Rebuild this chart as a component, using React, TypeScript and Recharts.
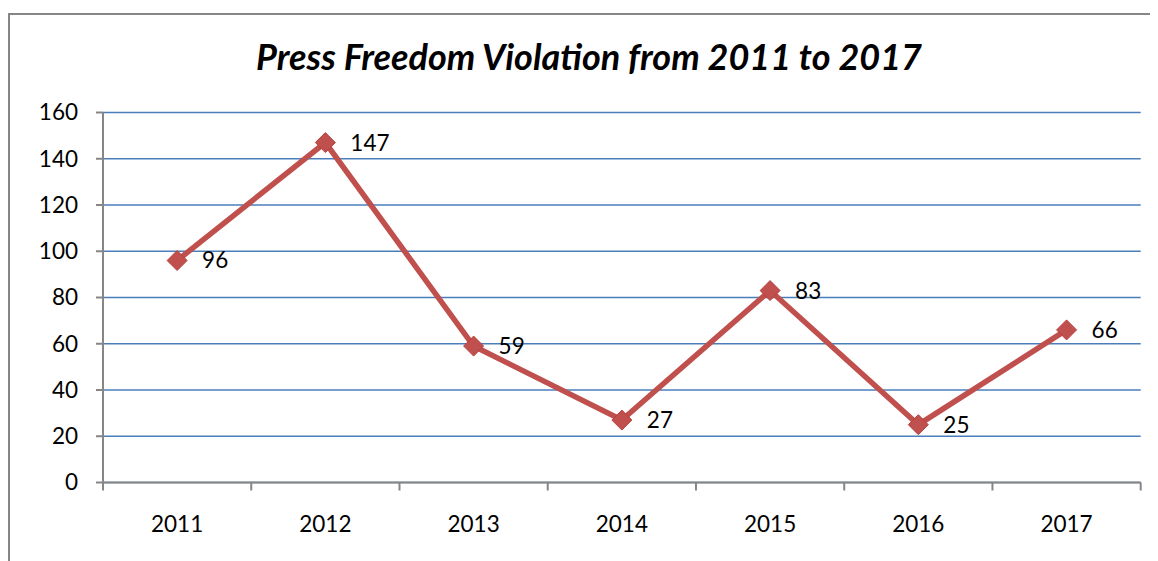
import { LineChart, Line, XAxis, YAxis, CartesianGrid, LabelList } from 'recharts';

const years = ['2011', '2012', '2013', '2014', '2015', '2016', '2017'];
const violations = [96, 147, 59, 27, 83, 25, 66];
const yTicks = [0, 20, 40, 60, 80, 100, 120, 140, 160];

const data = years.map((year, i) => ({ year, value: violations[i] }));

const W = 1148;
const H = 546;
const margin = { top: 97.5, right: 17.3, bottom: 38.5, left: 33 };
const yAxisWidth = 60;
const plotWidth = W - margin.left - margin.right - yAxisWidth;
const step = plotWidth / years.length;
const font = 'Lato, "Open Sans", sans-serif';
const fs = 22.5;

function Diamond(props: any) {
  const { cx, cy } = props;
  if (cx == null || cy == null) return null;
  const r = 10;
  return (
    <polygon
      points={`${cx},${cy - r} ${cx + r},${cy} ${cx},${cy + r} ${cx - r},${cy}`}
      fill="#C0504D"
      stroke="#B9403D"
      strokeWidth={1}
    />
  );
}

function YearTick(props: any) {
  const { x, y, payload, index } = props;
  const last = index === years.length - 1;
  return (
    <g>
      <line x1={x - step / 2} y1={y} x2={x - step / 2} y2={y + 8} stroke="#868686" strokeWidth={2} />
      {last && <line x1={x + step / 2} y1={y} x2={x + step / 2} y2={y + 8} stroke="#868686" strokeWidth={2} />}
      <text x={x} y={y + 49} textAnchor="middle" fontSize={fs} fill="#000" fontFamily={font}>
        {payload.value}
      </text>
    </g>
  );
}

export default function App() {
  return (
    <div style={{ width: 1150, height: 553, overflow: 'hidden' }}>
      <div
        style={{
          marginTop: 5,
          width: 1300,
          height: 700,
          borderTop: '2px solid #868686',
          borderLeft: '2px solid #868686',
          position: 'relative',
          fontFamily: font,
        }}
      >
        <div
          style={{
            position: 'absolute',
            left: 0,
            width: W + 10,
            top: 19,
            lineHeight: '44px',
            textAlign: 'center',
            fontSize: 36,
            fontWeight: 'bold',
            fontStyle: 'italic',
            color: '#000',
          }}
        >
          Press Freedom Violation from 2011 to 2017
        </div>
        <LineChart width={W} height={H} data={data} margin={margin}>
          <CartesianGrid vertical={false} stroke="#4A7EBB" strokeWidth={1.5} />
          <XAxis
            dataKey="year"
            height={40}
            padding={{ left: step / 2, right: step / 2 }}
            axisLine={{ stroke: '#868686', strokeWidth: 2 }}
            tickLine={false}
            tickSize={0}
            tickMargin={0}
            interval={0}
            tick={<YearTick />}
          />
          <YAxis
            width={yAxisWidth}
            domain={[0, 160]}
            ticks={yTicks}
            interval={0}
            axisLine={{ stroke: '#868686', strokeWidth: 2 }}
            tickLine={{ stroke: '#868686', strokeWidth: 2 }}
            tickSize={7}
            tickMargin={18}
            tick={{ fontSize: fs, fill: '#000', fontFamily: font }}
          />
          <Line
            type="linear"
            dataKey="value"
            stroke="#C0504D"
            strokeWidth={5.5}
            dot={<Diamond />}
            activeDot={false}
            isAnimationActive={false}
          >
            <LabelList dataKey="value" position="right" offset={25} fontSize={fs} fill="#000" fontFamily={font} />
          </Line>
        </LineChart>
      </div>
    </div>
  );
}
